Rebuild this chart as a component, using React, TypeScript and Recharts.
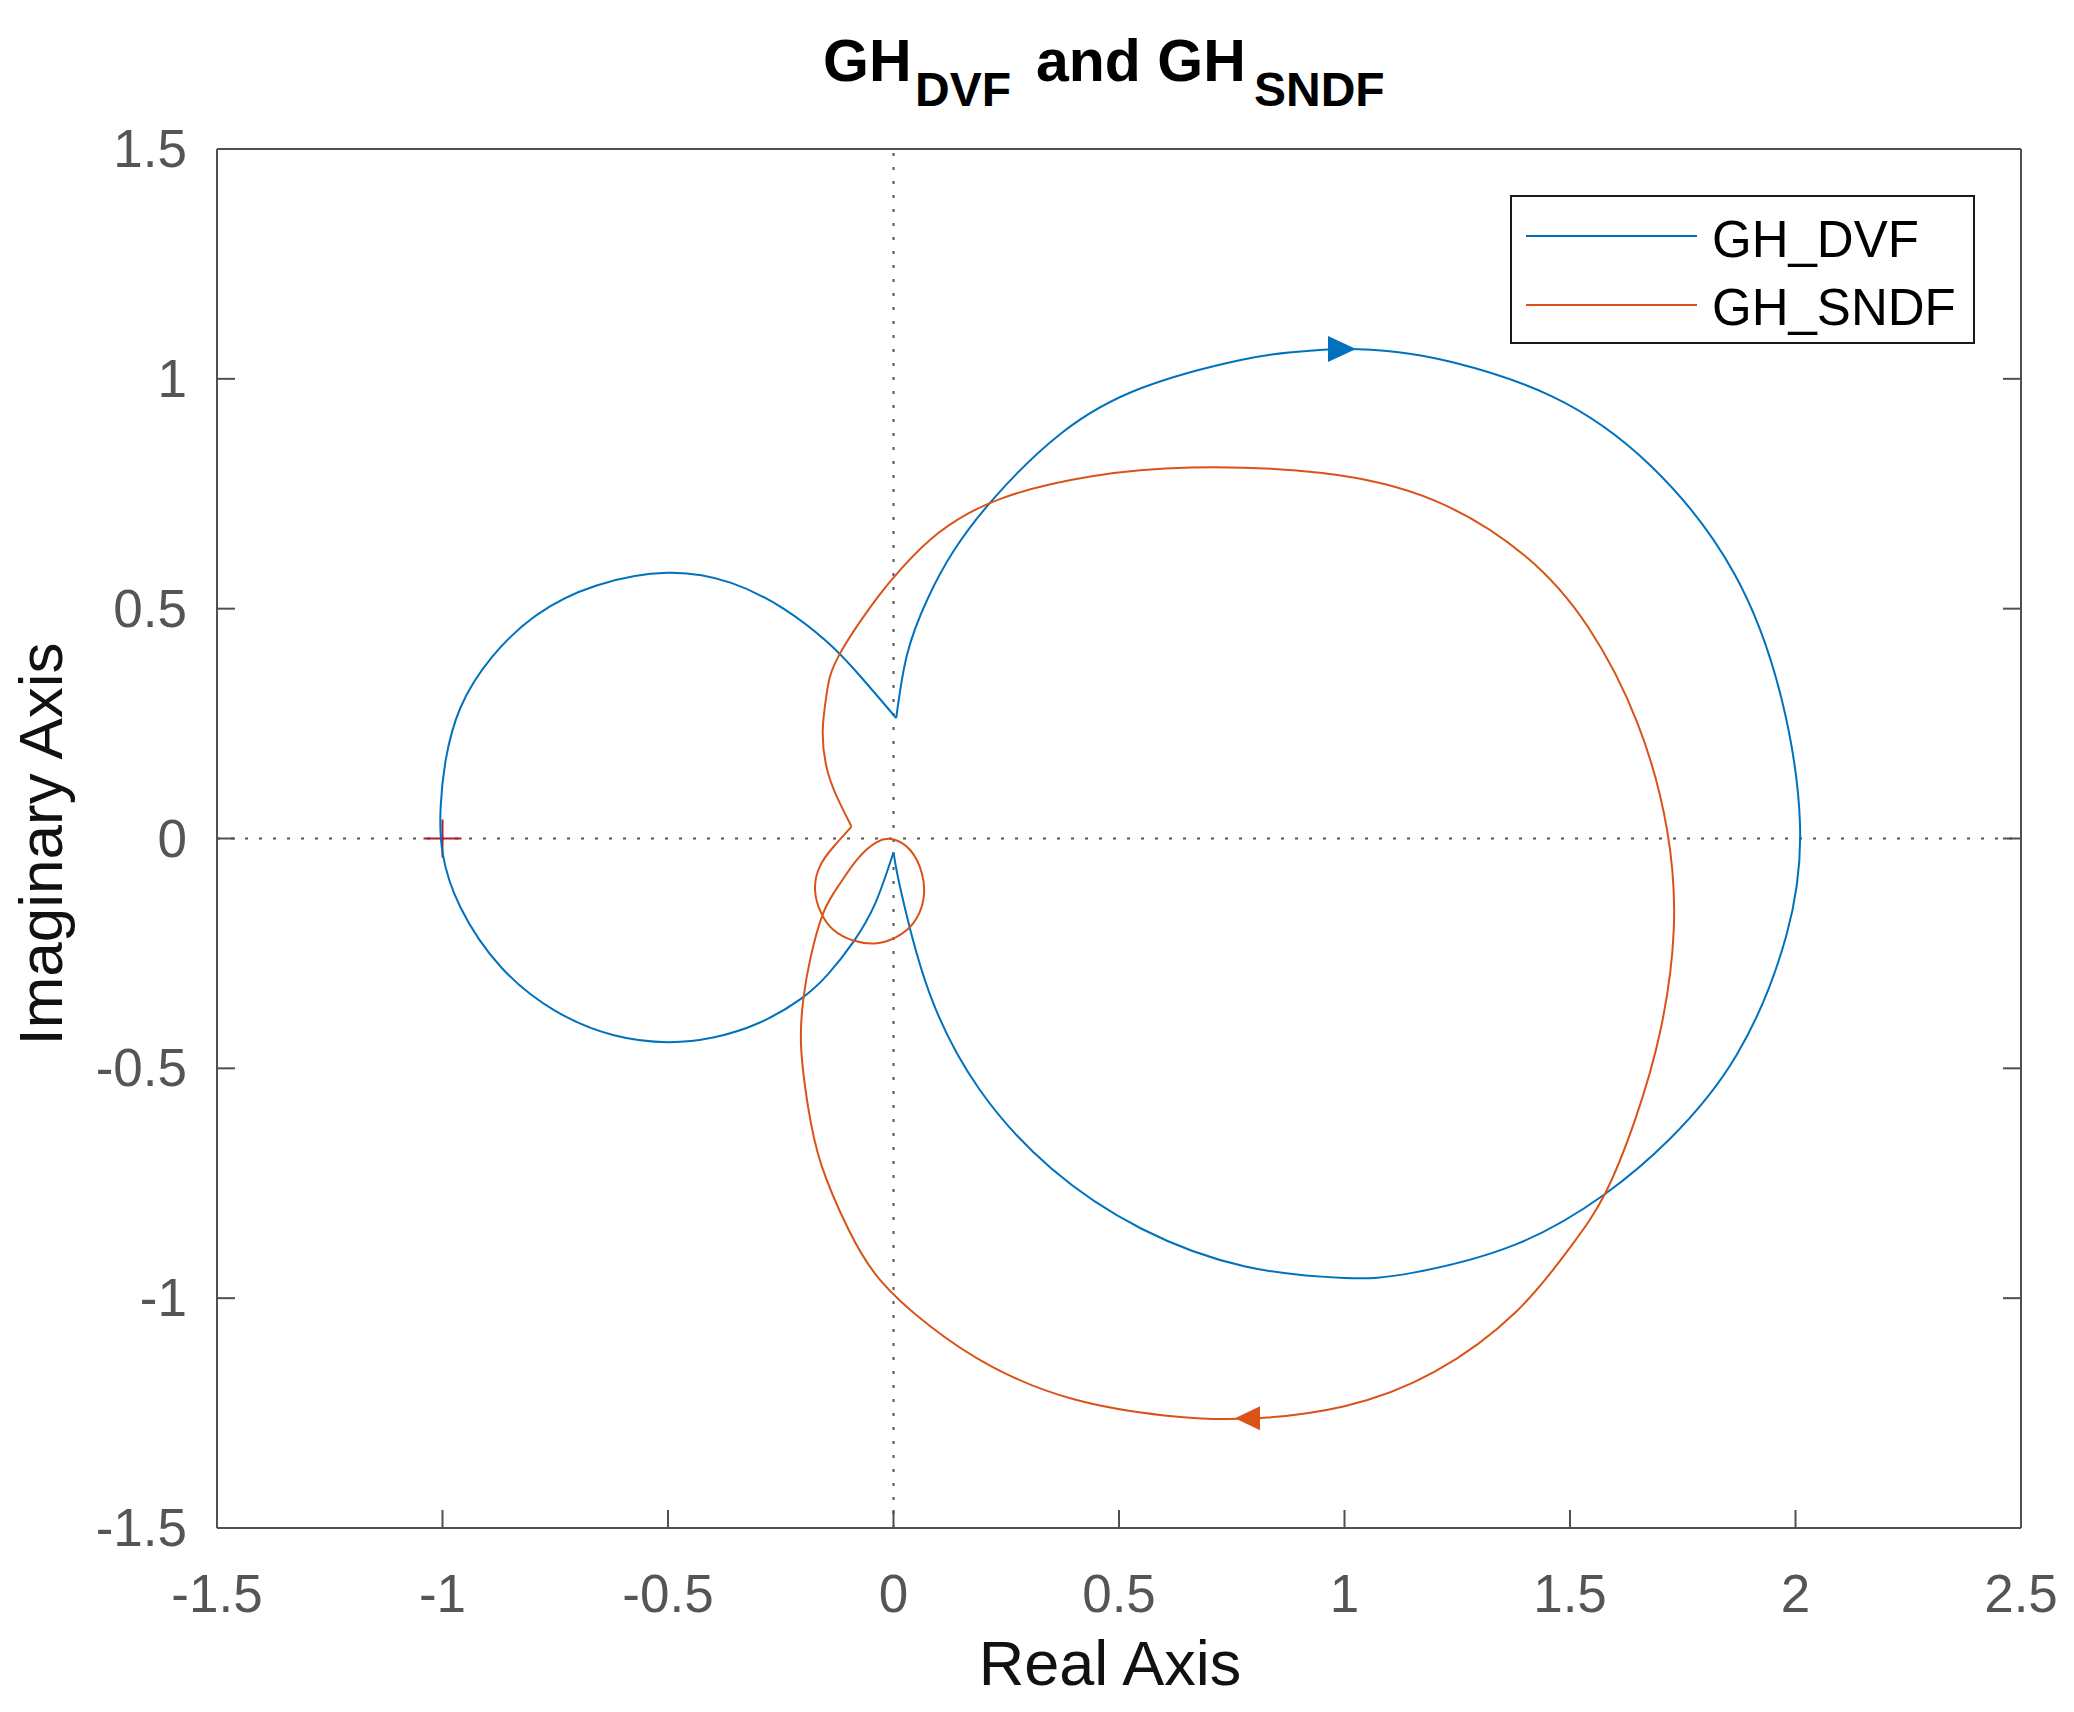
import { ReferenceLine, Scatter, ScatterChart, XAxis, YAxis } from "recharts"

const dvfOuterLoop: [number, number][] = [
    [0.006, 0.262], [0.03, 0.4], [0.075, 0.52], [0.135, 0.628], [0.227, 0.745],
    [0.37, 0.88], [0.55, 0.98], [0.77, 1.041], [0.885, 1.058], [1.0, 1.065],
    [1.12, 1.058], [1.24, 1.036], [1.46, 0.962], [1.68, 0.81], [1.865, 0.575],
    [1.97, 0.3], [2.01, 0.03], [1.98, -0.21], [1.87, -0.47], [1.72, -0.655],
    [1.577, -0.774], [1.38, -0.883], [1.15, -0.945], [1.0, -0.956], [0.78, -0.931],
    [0.55, -0.849], [0.35, -0.718], [0.19, -0.545], [0.085, -0.35], [0.03, -0.17],
    [0.008, -0.075], [0.0, -0.03],
]
const dvfInnerLoop: [number, number][] = [
    [0.0, -0.03], [-0.04, -0.14], [-0.089, -0.225], [-0.145, -0.295], [-0.207, -0.35],
    [-0.3, -0.402], [-0.4, -0.433], [-0.5, -0.443], [-0.62, -0.428], [-0.75, -0.375],
    [-0.87, -0.28], [-0.96, -0.15], [-1.0, -0.03], [-1.004, 0.07], [-0.993, 0.17],
    [-0.96, 0.285], [-0.89, 0.395], [-0.79, 0.487], [-0.66, 0.55], [-0.5, 0.578],
    [-0.36, 0.556], [-0.244, 0.5], [-0.15, 0.43], [-0.08, 0.36], [0.006, 0.262],
]
const sndfLoop: [number, number][] = [
    [-0.093, 0.026], [-0.133, -0.018], [-0.163, -0.06], [-0.174, -0.112], [-0.16, -0.163],
    [-0.133, -0.199], [-0.089, -0.222], [-0.037, -0.228], [0.007, -0.214], [0.044, -0.184],
    [0.066, -0.134], [0.063, -0.076], [0.037, -0.025], [0.0, -0.002], [-0.037, -0.008],
    [-0.08, -0.045], [-0.12, -0.1], [-0.156, -0.163], [-0.185, -0.264], [-0.2, -0.35],
    [-0.205, -0.45], [-0.19, -0.58], [-0.16, -0.71], [-0.1, -0.85], [-0.03, -0.96],
    [0.08, -1.06], [0.22, -1.15], [0.4, -1.22], [0.6, -1.255], [0.786, -1.262],
    [1.0, -1.235], [1.2, -1.16], [1.38, -1.03], [1.5, -0.89], [1.577, -0.774],
    [1.645, -0.61], [1.7, -0.42], [1.73, -0.2], [1.715, 0.02], [1.65, 0.25],
    [1.54, 0.46], [1.4, 0.615], [1.2, 0.735], [0.95, 0.795], [0.66, 0.807],
    [0.44, 0.788], [0.24, 0.74], [0.1, 0.665], [0.02, 0.59], [-0.035, 0.525],
    [-0.12, 0.4], [-0.148, 0.316], [-0.157, 0.229], [-0.145, 0.142], [-0.119, 0.077],
    [-0.093, 0.026],
]
const dvfArrow: [number, number][] = [[0.99, 1.065]]
const sndfArrow: [number, number][] = [[0.786, -1.261]]
const criticalPoint: [number, number][] = [[-1, 0]]

const xTicks = [-1.5, -1, -0.5, 0, 0.5, 1, 1.5, 2, 2.5]
const yTicks = [-1.5, -1, -0.5, 0, 0.5, 1, 1.5]
const seriesNames = ["GH_DVF", "GH_SNDF"]

const BLUE = "#0072BD"
const ORANGE = "#D95319"
const AXIS = "#505050"
const FONT = "'Liberation Sans', Arial, Helvetica, sans-serif"
const TICK_LEN = 18

const toPoints = (pts: [number, number][]) => pts.map(([x, y]) => ({ x, y }))

const noDot = () => <g />

function BottomTick(props: any) {
    const { x, y, payload } = props
    return (
        <g>
            <line x1={x} x2={x} y1={y} y2={y - TICK_LEN} stroke={AXIS} strokeWidth={2} />
            <text x={x} y={y + 84} textAnchor="middle" fontSize={53} fontFamily={FONT} fill="#555">
                {String(payload.value)}
            </text>
        </g>
    )
}

function TopTick(props: any) {
    const { x, y } = props
    return <line x1={x} x2={x} y1={y} y2={y + TICK_LEN} stroke={AXIS} strokeWidth={2} />
}

function LeftTick(props: any) {
    const { x, y, payload } = props
    return (
        <g>
            <line x1={x} x2={x + TICK_LEN} y1={y} y2={y} stroke={AXIS} strokeWidth={2} />
            <text x={x - 30} y={y + 18} textAnchor="end" fontSize={53} fontFamily={FONT} fill="#555">
                {String(payload.value)}
            </text>
        </g>
    )
}

function RightTick(props: any) {
    const { x, y } = props
    return <line x1={x} x2={x - TICK_LEN} y1={y} y2={y} stroke={AXIS} strokeWidth={2} />
}

function RightArrow(props: any) {
    const { cx, cy } = props
    return <polygon points={`${cx - 12},${cy - 13} ${cx + 16},${cy} ${cx - 12},${cy + 13}`} fill={BLUE} />
}

function LeftArrow(props: any) {
    const { cx, cy } = props
    return <polygon points={`${cx - 13},${cy} ${cx + 12},${cy - 12} ${cx + 12},${cy + 12}`} fill={ORANGE} />
}

function PlusMark(props: any) {
    const { cx, cy } = props
    return (
        <g stroke="#b01c2e" strokeWidth={2}>
            <line x1={cx - 19} x2={cx + 19} y1={cy} y2={cy} />
            <line x1={cx} x2={cx} y1={cy - 19} y2={cy + 19} />
        </g>
    )
}

export default function App() {
    const W = 2066
    const H = 1704
    return (
        <div style={{ position: "relative", width: W, height: H }}>
            <ScatterChart width={W} height={H} margin={{ top: 121, right: 33, bottom: 84, left: 89 }}>
                <XAxis
                    dataKey="x"
                    type="number"
                    domain={[-1.5, 2.5]}
                    ticks={xTicks}
                    interval={0}
                    allowDataOverflow
                    height={100}
                    tickSize={0}
                    tickMargin={0}
                    tickLine={false}
                    axisLine={{ stroke: AXIS, strokeWidth: 2 }}
                    tick={BottomTick}
                />
                <XAxis
                    xAxisId="top"
                    orientation="top"
                    type="number"
                    domain={[-1.5, 2.5]}
                    ticks={xTicks}
                    interval={0}
                    allowDataOverflow
                    height={20}
                    tickSize={0}
                    tickMargin={0}
                    tickLine={false}
                    axisLine={{ stroke: AXIS, strokeWidth: 2 }}
                    tick={TopTick}
                />
                <YAxis
                    dataKey="y"
                    type="number"
                    domain={[-1.5, 1.5]}
                    ticks={yTicks}
                    interval={0}
                    allowDataOverflow
                    width={120}
                    tickSize={0}
                    tickMargin={0}
                    tickLine={false}
                    axisLine={{ stroke: AXIS, strokeWidth: 2 }}
                    tick={LeftTick}
                />
                <YAxis
                    yAxisId="right"
                    orientation="right"
                    type="number"
                    domain={[-1.5, 1.5]}
                    ticks={yTicks}
                    interval={0}
                    allowDataOverflow
                    width={20}
                    tickSize={0}
                    tickMargin={0}
                    tickLine={false}
                    axisLine={{ stroke: AXIS, strokeWidth: 2 }}
                    tick={RightTick}
                />
                <ReferenceLine x={0} stroke="#555" strokeWidth={2} strokeDasharray="3 11" />
                <ReferenceLine y={0} stroke="#555" strokeWidth={2} strokeDasharray="3 11" />
                {/* critical point goes under the curves, like in the original */}
                <Scatter data={toPoints(criticalPoint)} fill="#b01c2e" shape={PlusMark} isAnimationActive={false} />
                <Scatter
                    data={toPoints(dvfOuterLoop)}
                    fill={BLUE}
                    line={{ stroke: BLUE, strokeWidth: 2 }}
                    lineType="joint"
                    lineJointType="natural"
                    shape={noDot}
                    isAnimationActive={false}
                />
                <Scatter
                    data={toPoints(dvfInnerLoop)}
                    fill={BLUE}
                    line={{ stroke: BLUE, strokeWidth: 2 }}
                    lineType="joint"
                    lineJointType="natural"
                    shape={noDot}
                    isAnimationActive={false}
                />
                <Scatter
                    data={toPoints(sndfLoop)}
                    fill={ORANGE}
                    line={{ stroke: ORANGE, strokeWidth: 2 }}
                    lineType="joint"
                    lineJointType="natural"
                    shape={noDot}
                    isAnimationActive={false}
                />
                <Scatter data={toPoints(dvfArrow)} fill={BLUE} shape={RightArrow} isAnimationActive={false} />
                <Scatter data={toPoints(sndfArrow)} fill={ORANGE} shape={LeftArrow} isAnimationActive={false} />
            </ScatterChart>
            <svg
                width={W}
                height={H}
                style={{ position: "absolute", left: 0, top: 0, pointerEvents: "none", overflow: "visible" }}
                fontFamily={FONT}
            >
                <text fontWeight="bold" fill="#000">
                    <tspan x={815} y={73} fontSize={59}>GH</tspan>
                    <tspan x={907} y={98} fontSize={48}>DVF</tspan>
                    <tspan x={1028} y={73} fontSize={59}>and GH</tspan>
                    <tspan x={1246} y={98} fontSize={48}>SNDF</tspan>
                </text>
                <text x={1102} y={1677} textAnchor="middle" fontSize={63} fill="#111">
                    Real Axis
                </text>
                <text
                    x={54}
                    y={836}
                    textAnchor="middle"
                    fontSize={62}
                    fill="#111"
                    transform="rotate(-90, 54, 836)"
                >
                    Imaginary Axis
                </text>
                <g>
                    <rect x={1503} y={188} width={463} height={147} fill="#fff" stroke="#1a1a1a" strokeWidth={2} />
                    <line x1={1518} x2={1689} y1={228} y2={228} stroke={BLUE} strokeWidth={2} />
                    <line x1={1518} x2={1689} y1={297} y2={297} stroke={ORANGE} strokeWidth={2} />
                    <text x={1704} y={249} fontSize={51} fill="#000">{seriesNames[0]}</text>
                    <text x={1704} y={317} fontSize={51} fill="#000">{seriesNames[1]}</text>
                </g>
            </svg>
        </div>
    )
}
